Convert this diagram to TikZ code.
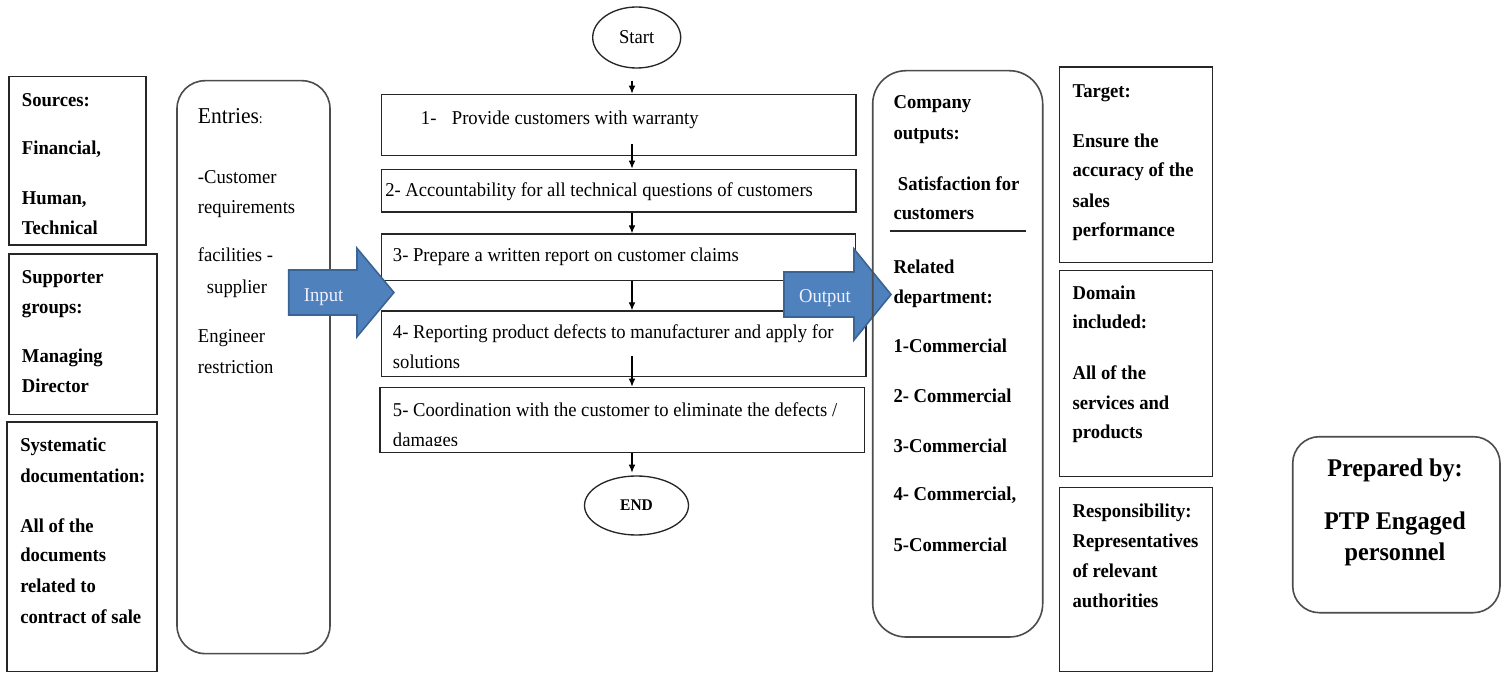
\documentclass[tikz,border=0pt]{standalone}
\usepackage{fontspec}
\setmainfont{Liberation Serif}[FakeStretch=0.95]
\usetikzlibrary{shapes.geometric,arrows.meta,fit}
\definecolor{arrowblue}{HTML}{4F81BD}
\definecolor{arrowedge}{HTML}{3A6494}
\newcounter{tl}
\newcommand\tline[4][txt]{\stepcounter{tl}\node[#1] (tl\arabic{tl}) at (#2,#3) {#4};}
\tikzset{
 txt/.style={font=\fontsize{14.7}{18}\selectfont, inner sep=0, anchor=base west},
 btxt/.style={txt, font=\fontsize{14.7}{18}\selectfont\bfseries},
 ctxt/.style={btxt, anchor=base, font=\fontsize{19.1}{22}\selectfont\bfseries},
 sqbox/.style={draw=black!85, line width=1pt, inner sep=0},
 rbox/.style={draw=black!70, line width=1.2pt, rounded corners=21pt, inner sep=0},
 flowbox/.style={draw=black!85, line width=1pt, inner sep=0},
 term/.style={draw=black!85, ellipse, line width=1pt, inner sep=0},
 arr/.style={-{Latex[length=6pt,width=5pt]}, line width=0.8pt},
 blockarrow/.style={fill=arrowblue, draw=arrowedge, line width=1.2pt, line join=miter},
 arrtxt/.style={txt, text=white!94!blue}
}
\begin{document}
\begin{tikzpicture}[x=0.75pt,y=-0.75pt]
\useasboundingbox (0,0) rectangle (1506,673);
\fill[white] (0,0) rectangle (1506,673);

% ---------- left column ----------
\node[sqbox, fit={(9,76.5) (146,245)}] (sources) {};
\tline[btxt]{21.7}{106.4}{Sources:}
\tline[btxt]{21.7}{155}{Financial,}
\tline[btxt]{21.7}{204.7}{Human,}
\tline[btxt]{21.7}{234.6}{Technical}

\node[sqbox, fit={(9,254) (157,414.4)}] (support) {};
\tline[btxt]{21.7}{283.5}{Supporter}
\tline[btxt]{21.7}{313.8}{groups:}
\tline[btxt]{21.7}{362.8}{Managing}
\tline[btxt]{21.7}{392.6}{Director}

\node[sqbox, fit={(7,422) (157,671.5)}] (docs) {};
\tline[btxt]{20}{451.9}{Systematic}
\tline[btxt]{20}{482.5}{documentation:}
\tline[btxt]{20}{532.3}{All of the}
\tline[btxt]{20}{561.8}{documents}
\tline[btxt]{20}{592.4}{related to}
\tline[btxt]{20}{623}{contract of sale}

% ---------- entries ----------
\node[rbox, fit={(177,80.7) (330,653.6)}] (entries) {};
\tline{197.7}{123.6}{\fontsize{17}{20}\selectfont Entries\fontsize{11}{13}\selectfont:}
\tline{197.7}{184}{-Customer}
\tline{197.7}{213.5}{requirements}
\tline{197.7}{261.3}{facilities -}
\tline{206.7}{293.9}{supplier}
\tline{197.7}{342.5}{Engineer}
\tline{197.7}{373.1}{restriction}

% ---------- flow ----------
\coordinate (ax) at (632,0);
\node[term, minimum width=66pt, minimum height=45.75pt, font=\fontsize{14.7}{18}\selectfont] (start) at (636.7,37.5) {Start};
\node[flowbox, fit={(381.7,94.3) (856,155.3)}] (b1) {};
\tline{420.7}{125}{1-\hspace{11.6pt}Provide customers with warranty}
\node[flowbox, fit={(381.7,169.3) (856,212)}] (b2) {};
\tline{385}{196.7}{2- Accountability for all technical questions of customers}
\node[flowbox, fit={(381.6,234) (855.3,280.7)}] (b3) {};
\tline{392.7}{261.7}{3- Prepare a written report on customer claims}
\node[flowbox, fit={(381.6,311) (866,376.7)}] (b4) {};
\tline{392.7}{338.3}{4- Reporting product defects to manufacturer and apply for}
\tline{392.7}{368.3}{solutions}
\node[flowbox, fit={(380,387.3) (864.4,452.3)}] (b5) {};
\tline{392.7}{416.7}{5- Coordination with the customer to eliminate the defects /}
\begin{scope}
\clip (380,387.3) rectangle (864.4,445);
\tline{392.7}{446.7}{damages}
\end{scope}
\node[term, minimum width=78pt, minimum height=44.25pt, font=\fontsize{12.2}{14}\selectfont\bfseries] (end) at (636.5,505.5) {END};

\draw[arr, shorten <=9pt] (start.south -| ax) -- (b1.north -| ax);
\draw[arr, shorten <=-9pt] (b1.south -| ax) -- (b2.north -| ax);
\draw[arr] (b2.south -| ax) -- (b3.north -| ax);
\draw[arr] (b3.south -| ax) -- (b4.north -| ax);
\draw[arr, shorten <=-16.3pt] (b4.south -| ax) -- (b5.north -| ax);
\draw[arr, shorten >=2pt] (b5.south -| ax) -- (end.north -| ax);

% ---------- block arrows ----------
\draw[blockarrow] (288.7,270) -- (357,270) -- (357,248.3) -- (393.9,292.5) -- (357,336.7) -- (357,315) -- (288.7,315) -- cycle;
\tline[arrtxt]{303.7}{301.7}{Input}
\draw[blockarrow] (784,272) -- (854,272) -- (854,249) -- (891,294.5) -- (854,340) -- (854,317) -- (784,317) -- cycle;
\tline[arrtxt]{798.8}{303}{Output}

% ---------- outputs ----------
\node[rbox, rounded corners=25pt, fit={(872.7,70.7) (1042.7,637)}] (outputs) {};
\tline[btxt]{893.3}{109}{Company}
\tline[btxt]{893.3}{139.2}{outputs:}
\tline[btxt]{897.7}{190.1}{Satisfaction for}
\tline[btxt]{893.3}{220}{customers}
\draw[line width=1pt, black!85] (890,231) -- (1025.7,231);
\tline[btxt]{893.3}{273.2}{Related}
\tline[btxt]{893.3}{303.8}{department:}
\tline[btxt]{893.3}{352.8}{1-Commercial}
\tline[btxt]{893.3}{402.5}{2- Commercial}
\tline[btxt]{893.3}{452.3}{3-Commercial}
\tline[btxt]{893.3}{500}{4- Commercial,}
\tline[btxt]{893.3}{551}{5-Commercial}

% ---------- right column ----------
\node[sqbox, fit={(1059.3,66.9) (1212.3,262.8)}] (target) {};
\tline[btxt]{1072.3}{97.5}{Target:}
\tline[btxt]{1072.3}{147.3}{Ensure the}
\tline[btxt]{1072.3}{176.7}{accuracy of the}
\tline[btxt]{1072.3}{207.3}{sales}
\tline[btxt]{1072.3}{236.8}{performance}

\node[sqbox, fit={(1059.3,270.5) (1212.3,476.4)}] (domain) {};
\tline[btxt]{1072.3}{299.2}{Domain}
\tline[btxt]{1072.3}{329}{included:}
\tline[btxt]{1072.3}{379.6}{All of the}
\tline[btxt]{1072.3}{409.4}{services and}
\tline[btxt]{1072.3}{438.9}{products}

\node[sqbox, fit={(1059.3,487.5) (1212.3,671.5)}] (resp) {};
\tline[btxt]{1072.3}{517.3}{Responsibility:}
\tline[btxt]{1072.3}{547.2}{Representatives}
\tline[btxt]{1072.3}{577.4}{of relevant}
\tline[btxt]{1072.3}{607.3}{authorities}

% ---------- prepared by ----------
\node[rbox, rounded corners=20pt, fit={(1292.7,436.7) (1500,612.7)}] (prepared) {};
\tline[ctxt]{1395}{476.7}{Prepared by:}
\tline[ctxt]{1395}{529}{PTP Engaged}
\tline[ctxt]{1395}{560}{personnel}
\end{tikzpicture}
\end{document}
